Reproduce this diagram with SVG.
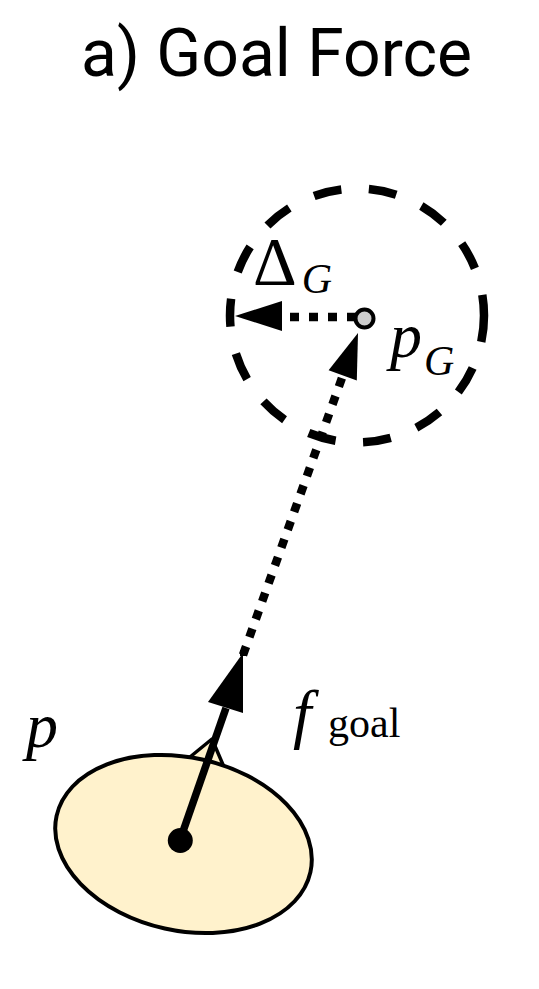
<svg xmlns="http://www.w3.org/2000/svg" width="539" height="989" viewBox="0 0 539 989">
<style>
.title{font-family:Roboto,"Liberation Sans",sans-serif;font-size:66px;fill:#000}
.m{font-family:"Liberation Serif","DejaVu Serif",serif;fill:#000}
.it{font-style:italic}
.head{fill:#000;stroke:none}
.dot{fill:none;stroke:#000;stroke-width:8.5;stroke-dasharray:9 10}
</style>
<rect width="539" height="989" fill="#fff"/>
<text class="title" x="276.5" y="76" text-anchor="middle">a) Goal Force</text>
<g id="goal-region">
<circle cx="357" cy="315.5" r="127" fill="none" stroke="#000" stroke-width="8.5" stroke-dasharray="28 27.6" stroke-dashoffset="1.5"/>
</g>
<g id="agent">
<polygon points="190,757 212,739 224,767" fill="#fff2cc" stroke="#000" stroke-width="3.5" stroke-linejoin="round"/>
<ellipse cx="183.5" cy="844" rx="130" ry="86.5" transform="rotate(12.5 183.5 844)" fill="#fff2cc" stroke="#000" stroke-width="4"/>
</g>
<g id="connectors">
<line class="dot" x1="356" y1="317" x2="282" y2="317"/>
<polygon class="head" points="235,316 282,301 282,331"/>
<line class="dot" x1="243" y1="655" x2="343" y2="375"/>
<rect x="240" y="650" width="6" height="6" fill="#000"/>
<polygon class="head" points="358,333 328.6,370.2 356.8,380.4"/>
<line x1="180" y1="840" x2="226" y2="708" stroke="#000" stroke-width="7.5"/>
<polygon class="head" points="243,653 208,702 243,713"/>
</g>
<g id="agent-center">
<circle cx="180.3" cy="840.5" r="12.5" fill="#000"/>
</g>
<g id="goal-point">
<circle cx="364.5" cy="318.5" r="9" fill="#cccccc" stroke="#000" stroke-width="4"/>
</g>
<g id="labels">
<text class="m it" x="26" y="747" font-size="64">p</text>
<text class="m" x="253" y="284" font-size="68">Δ<tspan class="it" font-size="42" dx="5" dy="9">G</tspan></text>
<text class="m it" x="390" y="357" font-size="64">p<tspan font-size="42" dx="2" dy="18">G</tspan></text>
<text class="m it" x="293" y="736" font-size="66">f<tspan font-style="normal" font-size="42" x="328" y="737">goal</tspan></text>
</g>
</svg>
